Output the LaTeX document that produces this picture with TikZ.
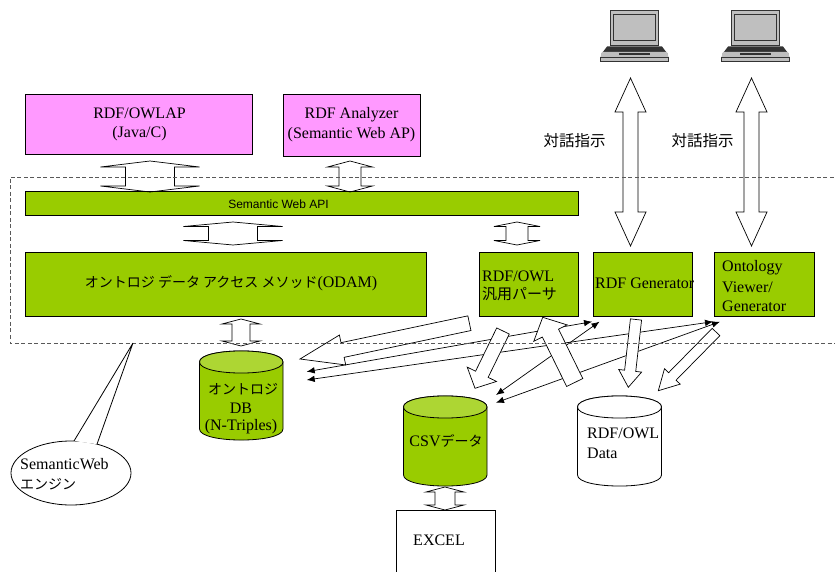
\documentclass[tikz,border=0pt]{standalone}
\usepackage{fontspec}
\setmainfont{Liberation Serif}
\setsansfont{Liberation Sans}
\newfontfamily\jafont{Noto Sans CJK JP}
\newcommand\ja{\jafont\fontsize{14}{16}\selectfont}
\usetikzlibrary{calc,arrows.meta,shapes.geometric}
\definecolor{apgreen}{HTML}{99CC00}
\definecolor{cyltop}{HTML}{ADD633}
\definecolor{appink}{HTML}{FF99FF}
\definecolor{lapdark}{HTML}{333333}
\definecolor{lapgray}{HTML}{BFBFBF}
\tikzset{
  x=1pt,y=-1pt,
  boxed/.style={draw=black,line width=0.8pt,anchor=north west,inner sep=0pt},
  greenbox/.style={boxed,fill=apgreen},
  pinkbox/.style={boxed,fill=appink},
  lbl/.style={font=\fontsize{16}{18}\selectfont,text=black,inner sep=0pt,align=center},
  lbll/.style={lbl,anchor=west,align=left},
  blockarrow/.style={draw=black,line width=0.7pt,fill=white,line join=miter},
  openarrow/.style={draw=black,line width=0.7pt,line join=miter},
  thin arrow/.style={draw=black,line width=0.7pt,{Latex[length=8pt,width=6.5pt]}-{Latex[length=8pt,width=6.5pt]}},
  engine/.style={draw=gray!70!black,line width=0.8pt,dash pattern=on 4pt off 2.5pt},
  cylside/.style={draw=black,line width=0.8pt},
}
% single block arrow: from, to, half shaft, half head, head length
\newcommand\sblock[5]{%
  \coordinate (tmpH) at ($(#2)!#5!(#1)$);
  \path[blockarrow] ($(#1)!#3!90:(#2)$) -- ($(tmpH)!#3!90:(#2)$) -- ($(tmpH)!#4!90:(#2)$) -- (#2)
    -- ($(tmpH)!#4!-90:(#2)$) -- ($(tmpH)!#3!-90:(#2)$) -- ($(#1)!#3!-90:(#2)$) -- cycle;}
% double block arrow
\newcommand\dblock[6][blockarrow]{%
  \coordinate (tmpH) at ($(#3)!#6!(#2)$);
  \coordinate (tmpI) at ($(#2)!#6!(#3)$);
  \path[#1] (#2) -- ($(tmpI)!#5!90:(#3)$) -- ($(tmpI)!#4!90:(#3)$) -- ($(tmpH)!#4!90:(#3)$) -- ($(tmpH)!#5!90:(#3)$) -- (#3)
    -- ($(tmpH)!#5!-90:(#3)$) -- ($(tmpH)!#4!-90:(#3)$) -- ($(tmpI)!#4!-90:(#3)$) -- ($(tmpI)!#5!-90:(#3)$) -- cycle;}
% cylinder: x left, y top, width, total height, side colour, top colour
\newcommand\dbcyl[6]{%
  \path[cylside,fill=#5] (#1,#2+11) .. controls (#1,#2-3.7) and (#1+#3,#2-3.7) .. (#1+#3,#2+11)
    -- (#1+#3,#2+#4-11) .. controls (#1+#3,#2+#4+3.7) and (#1,#2+#4+3.7) .. (#1,#2+#4-11) -- cycle;
  \path[cylside,fill=#6] (#1,#2+11) .. controls (#1,#2-3.7) and (#1+#3,#2-3.7) .. (#1+#3,#2+11)
    .. controls (#1+#3,#2+25.7) and (#1,#2+25.7) .. (#1,#2+11) -- cycle;}
% laptop with offset
\newcommand\laptop[1]{%
  \begin{scope}[xshift=#1pt]
    \fill[lapgray,draw=lapdark,line width=0.9pt] (610.7,10.3) rectangle (658.7,45);
    \draw[lapdark,line width=1pt,fill=lapgray] (613.5,14.3) rectangle (655.8,41);
    \fill[lapdark] (607,46.5) -- (662,46.5) -- (668,54.5) -- (601,54.5) -- cycle;
    \fill[lapgray] (602,52) -- (667,52) -- (668.5,57) -- (600.5,57) -- cycle;
    \fill[lapdark] (619,53) rectangle (650,55.5);
    \draw[lapdark,line width=1pt,fill=lapgray] (600.5,57.5) rectangle (668.5,62);
  \end{scope}}
\begin{document}
\begin{tikzpicture}
\useasboundingbox (0,0) rectangle (835,572);
\clip (0,0) rectangle (835,572);
\fill[white] (0,0) rectangle (835,572);

% boxes
\node[pinkbox,minimum width=227pt,minimum height=60pt] (ap1) at (25,94) {};
\node[pinkbox,minimum width=137pt,minimum height=62pt] (ap2) at (283,94) {};
\node[greenbox,minimum width=553pt,minimum height=23.5pt] (api) at (25,191.5) {};
\node[greenbox,minimum width=401pt,minimum height=64pt] (odam) at (25,252) {};
\node[greenbox,minimum width=99pt,minimum height=64pt] (parser) at (479,252) {};
\node[greenbox,minimum width=99pt,minimum height=64pt] (gen) at (593,252) {};
\node[greenbox,minimum width=100pt,minimum height=64pt] (viewer) at (714,252) {};
\node[boxed,fill=white,minimum width=99pt,minimum height=70pt] (excel) at (396,509.5) {};

% cylinders
\dbcyl{199.5}{351}{83.5}{89}{apgreen}{cyltop}
\dbcyl{403.5}{396}{83.5}{90}{apgreen}{cyltop}
\dbcyl{577.5}{396}{84}{90}{white}{white}

% thin two-headed arrows
\coordinate (t1a) at (306.7,371.7); \coordinate (t1b) at (592,321.7);
\coordinate (t2a) at (306.7,380);   \coordinate (t2b) at (713,321.7);
\coordinate (t3a) at (496,395);     \coordinate (t3b) at (599.5,321.7);
\coordinate (t4a) at (496,402.7);   \coordinate (t4b) at (720,321.7);
\draw[thin arrow] (t1a) -- (t1b);
\draw[thin arrow] (t2a) -- (t2b);
\draw[thin arrow] (t3a) -- (t3b);
\draw[thin arrow] (t4a) -- (t4b);

% single block arrows
\coordinate (a1) at (469.4,323.2); \coordinate (a2) at (300,359);
\sblock{a1}{a2}{7.5pt}{15.3pt}{43.5pt}
\coordinate (b1) at (503,331);     \coordinate (b2) at (475,388.3);
\sblock{b1}{b2}{7pt}{16.3pt}{15.6pt}
\coordinate (c1) at (574.7,382.5); \coordinate (c2) at (542.7,317.3);
\sblock{c1}{c2}{9pt}{18.6pt}{17.6pt}
\coordinate (d1) at (636,319.5);   \coordinate (d2) at (628.3,387.3);
\sblock{d1}{d2}{5.6pt}{11.5pt}{16.6pt}
\coordinate (e1) at (716,332);     \coordinate (e2) at (658.3,390.7);
\sblock{e1}{e2}{5.3pt}{11pt}{20pt}

% double block arrows
\coordinate (u1a) at (150,161); \coordinate (u1b) at (150,192);
\dblock[openarrow]{u1a}{u1b}{24.5pt}{49.5pt}{6pt}
\coordinate (u2a) at (350,161); \coordinate (u2b) at (350,192);
\dblock[openarrow]{u2a}{u2b}{11pt}{22.5pt}{6pt}
\coordinate (u3a) at (233,222); \coordinate (u3b) at (233,245);
\dblock[openarrow]{u3a}{u3b}{24.5pt}{49.5pt}{4.5pt}
\coordinate (u4a) at (517,222); \coordinate (u4b) at (517,245);
\dblock[openarrow]{u4a}{u4b}{11pt}{23pt}{4.5pt}
\coordinate (u5a) at (241,319); \coordinate (u5b) at (241,346);
\dblock[openarrow]{u5a}{u5b}{9pt}{19pt}{5pt}
\coordinate (u6a) at (445,487); \coordinate (u6b) at (445,510);
\dblock[openarrow]{u6a}{u6b}{10pt}{19pt}{5pt}
\coordinate (u7a) at (630.5,78); \coordinate (u7b) at (630.5,246);
\dblock[openarrow]{u7a}{u7b}{7.5pt}{15.5pt}{34pt}
\coordinate (u8a) at (751.5,78); \coordinate (u8b) at (751.5,246);
\dblock[openarrow]{u8a}{u8b}{7.5pt}{15.5pt}{34pt}

% engine boundary
\draw[engine] (840,177) -- (10,177) -- (10,343) -- (840,343);

% callout
\node[draw=black,line width=0.8pt,fill=white,ellipse,minimum width=120pt,minimum height=64pt,inner sep=0pt] (callout) at (71,473) {};
\coordinate (cb1) at (74,441); \coordinate (cb2) at (97,444.2); \coordinate (capex) at (133,343);
\fill[white] (cb1) -- (capex) -- (cb2) -- cycle;
\draw[black,line width=0.8pt] (cb1) -- (capex) -- (cb2);

% laptops
\laptop{0}
\laptop{121}

% texts
\node[lbl] (t1) at (139.5,113) {RDF/OWLAP};
\node[lbl] (t2) at (139.5,134) {(Java/C)};
\node[lbl] (t3) at (351.5,115) {RDF Analyzer};
\node[lbl] (t4) at (351.5,135) {(Semantic Web AP)};
\node[lbl,font=\sffamily\fontsize{12}{14}\selectfont] (t5) at (278.5,204) {Semantic Web API};
\node[lbl] (t6) at (231,283) {{\ja オントロジ データ アクセス メソッド}(ODAM)};
\node[lbll] (t7) at (482,276) {RDF/OWL};
\node[lbll] (t8) at (482,294) {{\ja\fontsize{15}{17}\selectfont 汎用パーサ}};
\node[lbll] (t9) at (595,283) {RDF Generator};
\node[lbll] (t10) at (722,268) {Ontology};
\node[lbll] (t11) at (722,287) {Viewer/};
\node[lbll] (t12) at (722,306) {Generator};
\node[lbl,font=\jafont\fontsize{15.5}{17}\selectfont] (t13) at (574.5,141) {対話指示};
\node[lbl,font=\jafont\fontsize{15.5}{17}\selectfont] (t14) at (702.5,141) {対話指示};
\node[lbll] (t15) at (20,464) {SemanticWeb};
\node[lbll] (t16) at (20,484) {{\ja エンジン}};
\node[lbl] (t17) at (243,389) {{\ja オントロジ}};
\node[lbl] (t18) at (241,408) {DB};
\node[lbl] (t19) at (241,427) {(N-Triples)};
\node[lbl] (t20) at (446,441) {CSV{\ja データ}};
\node[lbll] (t21) at (587,433) {RDF/OWL};
\node[lbll] (t22) at (587,453) {Data};
\node[lbl] (t23) at (439,540) {EXCEL};
\end{tikzpicture}
\end{document}
